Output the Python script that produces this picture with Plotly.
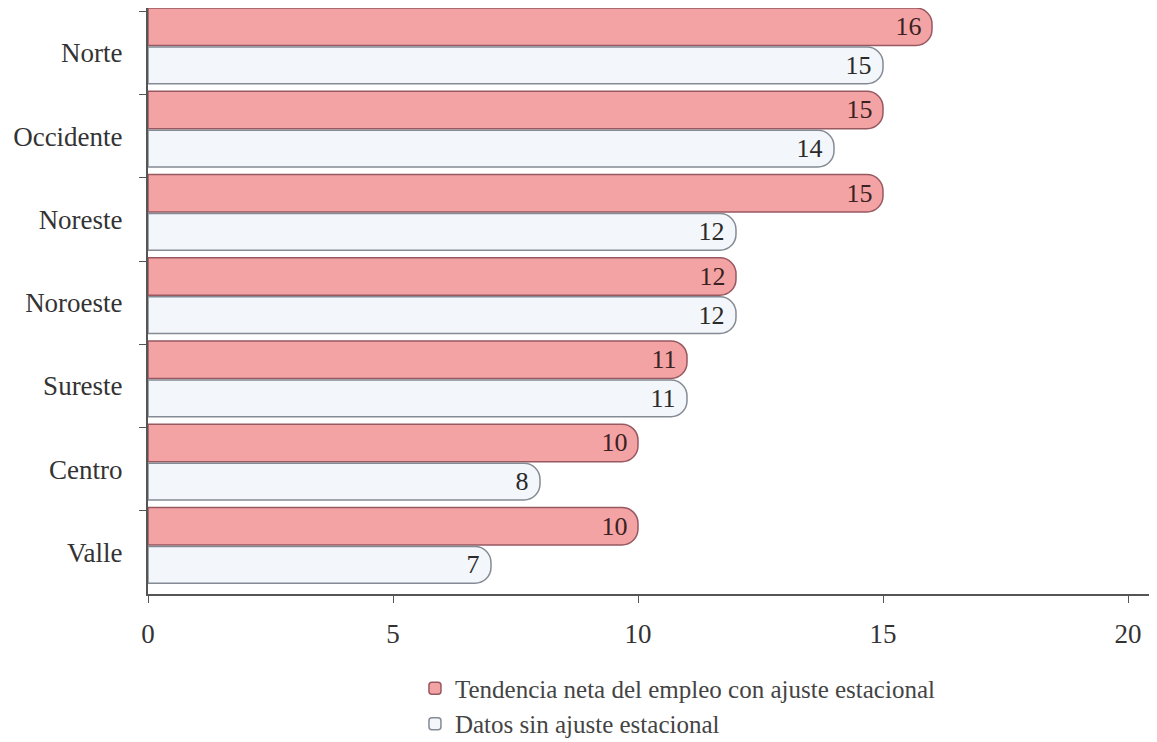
import plotly.graph_objects as go

regiones = ["Norte", "Occidente", "Noreste", "Noroeste", "Sureste", "Centro", "Valle"]
con_ajuste = [16, 15, 15, 12, 11, 10, 10]
sin_ajuste = [15, 14, 12, 12, 11, 8, 7]

serif = "Liberation Serif, Times New Roman, serif"

fig = go.Figure()
fig.add_trace(go.Bar(
    y=regiones, x=con_ajuste, orientation="h",
    name="Tendencia neta del empleo con ajuste estacional",
    width=0.45, offset=-0.54,
    marker=dict(color="#F4A3A5", line=dict(color="#985860", width=1.5), cornerradius=16),
    text=con_ajuste, textposition="inside", insidetextanchor="end",
    textfont=dict(family=serif, size=26, color="#3a2222"),
))
fig.add_trace(go.Bar(
    y=regiones, x=sin_ajuste, orientation="h",
    name="Datos sin ajuste estacional",
    width=0.44, offset=-0.07,
    marker=dict(color="#F3F6FA", line=dict(color="#858B94", width=1.5), cornerradius=16),
    text=sin_ajuste, textposition="inside", insidetextanchor="end",
    textfont=dict(family=serif, size=26, color="#2a2a2a"),
))

fig.update_layout(
    width=1157, height=742,
    margin=dict(l=140, r=0, t=0, b=156),
    barmode="overlay",
    plot_bgcolor="white", paper_bgcolor="white",
    font=dict(family=serif, size=27, color="#333333"),
    uniformtext=dict(mode="show", minsize=20),
    legend=dict(x=0.2625, y=-0.122, xanchor="left", yanchor="top",
                font=dict(family=serif, size=25, color="#444444"),
                tracegroupgap=0, itemwidth=30),
    showlegend=True,
)
fig.update_xaxes(range=[0, 20.755], tickvals=[0, 5, 10, 15, 20], showgrid=False,
                 showline=True, linecolor="#555555", linewidth=2,
                 ticks="outside", ticklen=7, tickcolor="#555555", zeroline=False,
                 ticklabelstandoff=8)
fig.update_yaxes(autorange="reversed", showgrid=False, showline=True,
                 linecolor="#555555", linewidth=2, ticks="outside", ticklen=7,
                 tickcolor="#555555", tickson="boundaries", ticklabelstandoff=18)

fig.write_html("out.html")
